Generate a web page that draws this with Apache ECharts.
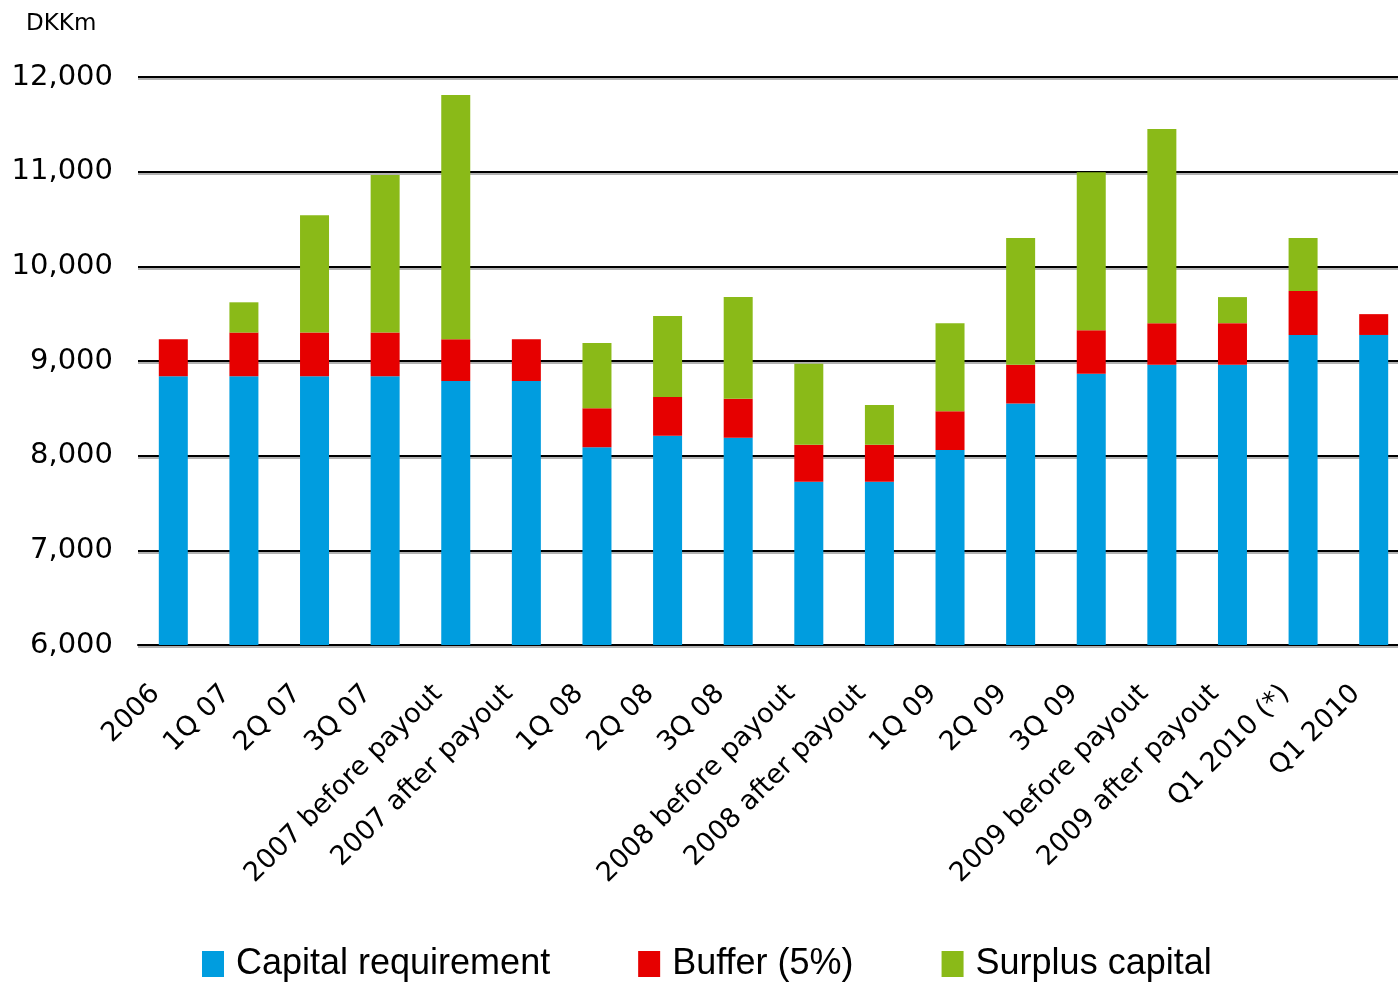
<!DOCTYPE html>
<html>
<head>
<meta charset="utf-8">
<script src="https://cdn.jsdelivr.net/npm/echarts@6/dist/echarts.min.js"></script>
<style>
  html, body { margin: 0; padding: 0; background: #fff; overflow: hidden; }
  /* plot runs a little past the right edge of the window, as in the original */
  #chart { width: 1409px; height: 986px; }
</style>
</head>
<body>
<div id="chart"></div>
<script>
const categories = [
  "2006", "1Q 07", "2Q 07", "3Q 07", "2007 before payout", "2007 after payout",
  "1Q 08", "2Q 08", "3Q 08", "2008 before payout", "2008 after payout",
  "1Q 09", "2Q 09", "3Q 09", "2009 before payout", "2009 after payout",
  "Q1 2010 (*)", "Q1 2010"
];

// segment heights of each stacked bar, DKKm
const capitalRequirement = [8840, 8840, 8840, 8840, 8790, 8790, 8090, 8210, 8190, 7725, 7725, 8060, 8550, 8865, 8960, 8960, 9275, 9275];
const buffer = [390, 460, 460, 460, 440, 440, 410, 410, 410, 390, 390, 410, 410, 460, 440, 440, 465, 220];
const surplusCapital = [0, 320, 1240, 1665, 2580, 0, 690, 855, 1075, 855, 420, 930, 1340, 1670, 2050, 275, 560, 0];

const yTicks = [6000, 7000, 8000, 9000, 10000, 11000, 12000];

const chart = echarts.init(document.getElementById("chart"));

const bar = (name, data, color) => ({
  name: name,
  type: "bar",
  stack: "total",
  barWidth: 29,
  data: data.map((v) => (v === 0 ? "-" : v)),
  itemStyle: { color: color },
});

chart.setOption({
  animation: false,
  title: {
    text: "DKKm",
    left: 21,
    top: 8,
    textStyle: { fontFamily: "DejaVu Sans", fontSize: 23, fontWeight: "normal", color: "#000" },
  },
  grid: { left: 138, top: 77, right: 0, height: 568 },
  legend: {
    left: 197,
    top: 941,
    itemWidth: 22,
    itemHeight: 26,
    itemGap: 88,
    icon: "rect",
    textStyle: { fontFamily: "Liberation Sans", fontSize: 36, color: "#000", padding: [0, 0, 0, 7] },
  },
  xAxis: {
    type: "category",
    data: categories,
    axisLine: { lineStyle: { color: "#000", width: 2 } },
    axisTick: { length: 10, lineStyle: { color: "#000", width: 2 } },
    axisLabel: {
      rotate: 45,
      interval: 0,
      margin: 27,
      padding: [0, 25, 0, 0],
      fontFamily: "DejaVu Sans",
      fontSize: 27,
      color: "#000",
    },
  },
  yAxis: {
    type: "value",
    min: yTicks[0],
    max: yTicks[yTicks.length - 1],
    interval: 1000,
    axisLine: { show: false },
    axisTick: { show: false },
    axisLabel: {
      margin: 25,
      fontFamily: "DejaVu Sans",
      fontSize: 29,
      color: "#000",
      formatter: (v) => v.toLocaleString("en-US"),
    },
    splitLine: {
      lineStyle: { color: "#000", width: 2, shadowColor: "rgba(0,0,0,0.3)", shadowOffsetY: 2, shadowBlur: 0 },
    },
  },
  series: [
    bar("Capital requirement", capitalRequirement, "#009ddf"),
    bar("Buffer (5%)", buffer, "#e60000"),
    bar("Surplus capital", surplusCapital, "#8aba18"),
  ],
});
</script>
</body>
</html>
